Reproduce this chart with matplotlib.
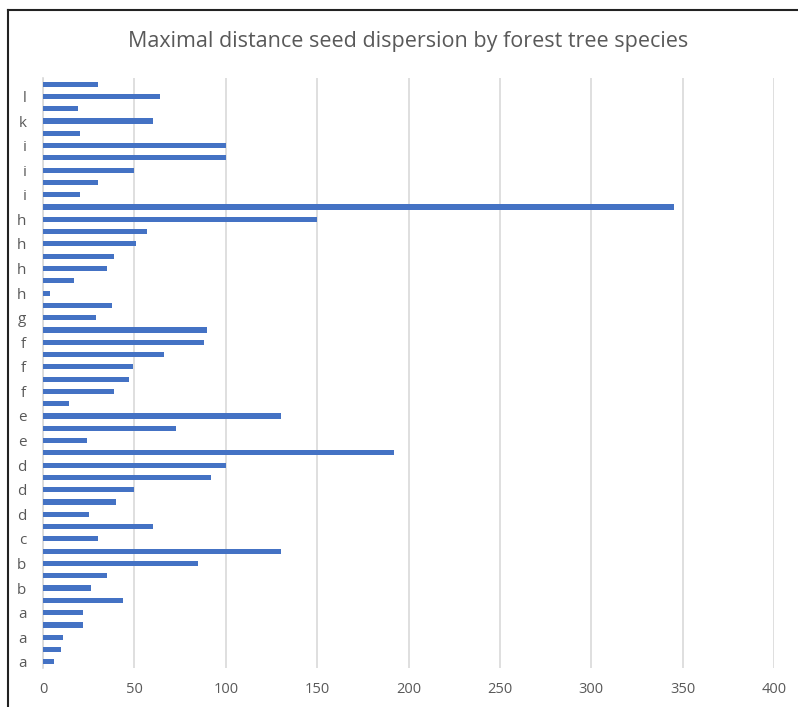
import matplotlib
matplotlib.use('Agg')
import matplotlib.pyplot as plt
from matplotlib.lines import Line2D
import numpy as np

# species labels, bottom to top (only every other one is shown on the axis)
species = ['a', 'a', 'a', 'a', 'a', 'a', 'b', 'b', 'b', 'b', 'c', 'c',
           'd', 'd', 'd', 'd', 'd', 'd', 'e', 'e', 'e', 'f', 'f', 'f',
           'f', 'f', 'f', 'f', 'g', 'g', 'h', 'h', 'h', 'h', 'h', 'h',
           'h', 'h', 'i', 'i', 'i', 'i', 'i', 'j', 'k', 'k', 'l', 'l']
# maximal dispersal distance, bottom to top
distance = [6, 10, 11, 22, 22, 44, 26, 35, 85, 130, 30, 60,
            25, 40, 50, 92, 100, 192, 24, 73, 130, 14, 39, 47,
            49, 66, 88, 90, 29, 38, 4, 17, 35, 39, 51, 57,
            150, 345, 20, 30, 50, 100, 100, 20, 60, 19, 64, 30]
x_ticks = [0, 50, 100, 150, 200, 250, 300, 350, 400]

text_col = '#595959'
grid_col = '#d9d9d9'
bar_col = '#4472c4'

fig = plt.figure(figsize=(7.98, 7.07), dpi=100)
ax = fig.add_axes([0.0539, 0.0552, 0.9161, 0.8345])

pos = np.arange(len(distance))
ax.barh(pos, distance, height=0.42, color=bar_col, zorder=3)

ax.set_xlim(0, 400)
ax.set_ylim(-0.5, len(distance) - 0.5)
ax.set_xticks(x_ticks)
ax.set_xticklabels([str(t) for t in x_ticks], color=text_col, fontsize=10.5, family='Open Sans')
ax.set_yticks(pos[::2])
ax.set_yticklabels(species[::2], color=text_col, fontsize=11, family='Open Sans')
ax.tick_params(length=0)
ax.tick_params(axis='x', pad=10)
ax.tick_params(axis='y', pad=12)
ax.grid(axis='x', color=grid_col, linewidth=1.2, zorder=0)
for s in ['top', 'right', 'bottom']:
    ax.spines[s].set_visible(False)
ax.spines['left'].set_color(grid_col)
ax.spines['left'].set_linewidth(1.2)

fig.suptitle('Maximal distance seed dispersion by forest tree species',
             x=0.511, y=0.941, va='center', fontsize=15.5, color=text_col, family='Open Sans')

# outer frame (left and top edges only are in view)
fig.add_artist(Line2D([0.0106, 0.0106], [0, 0.986], transform=fig.transFigure, color='#222222', lw=1.5))
fig.add_artist(Line2D([0.0106, 1.0], [0.986, 0.986], transform=fig.transFigure, color='#222222', lw=1.5))

fig.savefig('out.png', dpi=100)
